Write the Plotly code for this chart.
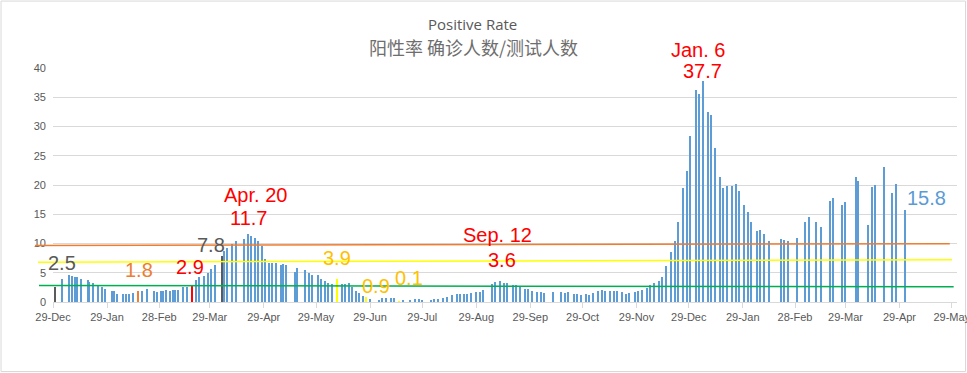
import plotly.graph_objects as go

# ---------------- data ----------------
dates = [
    "2020-12-30", "2021-01-03", "2021-01-07", "2021-01-09", "2021-01-11", "2021-01-12",
    "2021-01-14", "2021-01-18", "2021-01-19", "2021-01-21", "2021-01-24", "2021-01-26",
    "2021-01-28", "2021-02-01", "2021-02-02", "2021-02-04", "2021-02-07", "2021-02-09",
    "2021-02-11", "2021-02-13", "2021-02-16", "2021-02-18", "2021-02-21", "2021-02-25",
    "2021-02-27", "2021-03-01", "2021-03-02", "2021-03-04", "2021-03-06", "2021-03-08",
    "2021-03-09", "2021-03-11", "2021-03-14", "2021-03-16", "2021-03-19", "2021-03-21",
    "2021-03-23", "2021-03-26", "2021-03-28", "2021-03-30", "2021-04-01", "2021-04-05",
    "2021-04-06", "2021-04-08", "2021-04-11", "2021-04-13", "2021-04-18", "2021-04-20",
    "2021-04-22", "2021-04-24", "2021-04-26", "2021-04-28", "2021-04-30", "2021-05-02",
    "2021-05-04", "2021-05-06", "2021-05-09", "2021-05-10", "2021-05-12", "2021-05-17",
    "2021-05-18", "2021-05-23", "2021-05-25", "2021-05-27", "2021-05-30", "2021-06-01",
    "2021-06-03", "2021-06-05", "2021-06-07", "2021-06-10", "2021-06-13", "2021-06-15",
    "2021-06-17", "2021-06-19", "2021-06-21", "2021-06-23", "2021-06-25", "2021-06-27",
    "2021-06-29", "2021-07-04", "2021-07-06", "2021-07-08", "2021-07-11", "2021-07-13",
    "2021-07-16", "2021-07-18", "2021-07-22", "2021-07-25", "2021-07-27", "2021-07-29",
    "2021-08-03", "2021-08-05", "2021-08-07", "2021-08-10", "2021-08-12", "2021-08-15",
    "2021-08-18", "2021-08-20", "2021-08-22", "2021-08-24", "2021-08-26", "2021-08-29",
    "2021-08-31", "2021-09-02", "2021-09-07", "2021-09-09", "2021-09-12", "2021-09-14",
    "2021-09-16", "2021-09-19", "2021-09-21", "2021-09-23", "2021-09-26", "2021-09-28",
    "2021-09-30", "2021-10-03", "2021-10-05", "2021-10-07", "2021-10-12", "2021-10-17",
    "2021-10-19", "2021-10-21", "2021-10-24", "2021-10-26", "2021-10-28", "2021-10-31",
    "2021-11-02", "2021-11-04", "2021-11-07", "2021-11-09", "2021-11-11", "2021-11-14",
    "2021-11-16", "2021-11-18", "2021-11-21", "2021-11-23", "2021-11-25", "2021-11-28",
    "2021-11-30", "2021-12-02", "2021-12-05", "2021-12-07", "2021-12-09", "2021-12-12",
    "2021-12-14", "2021-12-16", "2021-12-19", "2021-12-21", "2021-12-23", "2021-12-26",
    "2021-12-28", "2021-12-30", "2022-01-02", "2022-01-04", "2022-01-06", "2022-01-09",
    "2022-01-11", "2022-01-13", "2022-01-16", "2022-01-18", "2022-01-20", "2022-01-23",
    "2022-01-25", "2022-01-27", "2022-01-30", "2022-02-01", "2022-02-03", "2022-02-06",
    "2022-02-08", "2022-02-10", "2022-02-13", "2022-02-20", "2022-02-22", "2022-02-24",
    "2022-03-01", "2022-03-06", "2022-03-08", "2022-03-12", "2022-03-15", "2022-03-20",
    "2022-03-22", "2022-03-27", "2022-03-29", "2022-04-04", "2022-04-05", "2022-04-11",
    "2022-04-13", "2022-04-15", "2022-04-20", "2022-04-25", "2022-04-27", "2022-05-02",
]

rates = [
    2.5, 4.0, 4.6, 4.5, 4.3, 4.2,
    3.9, 3.8, 3.4, 3.2, 2.9, 2.5,
    2.2, 1.8, 1.8, 1.4, 1.4, 1.4,
    1.4, 1.5, 1.8, 1.8, 2.2, 1.9,
    1.7, 1.9, 1.9, 2.0, 1.9, 2.1,
    2.0, 2.1, 2.5, 2.5, 2.9, 3.8,
    4.2, 4.5, 4.9, 5.7, 6.3, 7.8,
    8.7, 9.2, 10.0, 10.4, 10.7, 11.7,
    11.2, 10.9, 10.5, 9.6, 7.3, 6.7,
    6.6, 6.6, 6.3, 6.5, 6.3, 5.2,
    5.8, 5.5, 4.9, 4.7, 4.6, 3.9,
    3.6, 3.2, 3.1, 3.9, 3.1, 3.0,
    3.3, 2.6, 1.9, 1.6, 1.1, 0.9,
    0.5, 0.35, 0.6, 0.75, 0.7, 0.6,
    0.1, 0.2, 0.35, 0.45, 0.45, 0.35,
    0.35, 0.5, 0.5, 0.75, 0.9, 1.2,
    1.4, 1.3, 1.4, 1.4, 1.5, 1.7,
    1.7, 2.0, 3.1, 3.4, 3.6, 3.3,
    3.2, 2.85, 2.85, 2.6, 2.3, 2.2,
    1.9, 1.7, 1.7, 1.6, 1.7, 1.7,
    1.6, 1.7, 1.4, 1.4, 1.2, 1.4,
    1.25, 1.6, 1.9, 2.1, 1.9, 1.9,
    1.9, 1.9, 1.7, 1.4, 1.6, 1.7,
    1.9, 2.1, 2.45, 2.85, 3.2, 3.6,
    4.3, 6.15, 8.5, 10.4, 13.6, 19.5,
    22.4, 28.4, 36.3, 35.5, 37.7, 32.5,
    31.9, 26.4, 21.4, 19.5, 19.9, 19.9,
    20.1, 18.9, 16.6, 15.4, 13.7, 12.2,
    12.3, 11.7, 10.4, 10.8, 10.6, 10.4,
    11.0, 13.7, 14.6, 13.7, 12.9, 17.3,
    17.8, 16.5, 17.1, 21.4, 20.6, 13.2,
    19.7, 20.0, 23.1, 18.7, 20.2, 15.8,
]

tick_dates = [
    "2020-12-29", "2021-01-29", "2021-02-28", "2021-03-29", "2021-04-29", "2021-05-29",
    "2021-06-29", "2021-07-29", "2021-08-29", "2021-09-29", "2021-10-29", "2021-11-29",
    "2021-12-29", "2022-01-29", "2022-02-28", "2022-03-29", "2022-04-29", "2022-05-29",
]
y_ticks = [0, 5, 10, 15, 20, 25, 30, 35, 40]

# reference lines (value at left end, value at right end)
ref_line_names = ["orange", "yellow", "green"]
ref_line_start = [9.65, 6.8, 2.8]
ref_line_end = [9.97, 7.23, 2.62]

# callout labels: text, anchored date, anchored value
label_texts = ["2.5", "1.8", "2.9", "7.8", "Apr. 20", "11.7", "3.9", "0.9", "0.1",
               "Sep. 12", "3.6", "Jan. 6", "37.7", "15.8"]
label_dates = ["2020-12-30", "2021-02-16", "2021-03-19", "2021-04-05", "2021-04-20",
               "2021-04-20", "2021-06-10", "2021-06-27", "2021-07-16", "2021-09-12",
               "2021-09-12", "2022-01-06", "2022-01-06", "2022-05-02"]
label_values = [2.5, 1.8, 2.9, 7.8, 11.7, 11.7, 3.9, 0.9, 0.1, 3.6, 3.6, 37.7, 37.7, 15.8]

# ---------------- styles ----------------
BLUE = "#5B9BD5"
GRAY = "#595959"
RED = "#FF0000"
ORANGE = "#ED7D31"
GOLD = "#FFC000"
YELLOW = "#FFFF00"
GRID = "#D9D9D9"

highlight = {
    "2020-12-30": GRAY,
    "2021-02-16": ORANGE,
    "2021-03-19": RED,
    "2021-04-05": GRAY,
    "2021-06-10": YELLOW,
    "2021-06-27": YELLOW,
    "2021-07-16": YELLOW,
}
bar_colors = [highlight.get(d, BLUE) for d in dates]

line_colors = {"orange": ORANGE, "yellow": YELLOW, "green": "#00B050"}
line_x0 = {"orange": -0.0199, "yellow": -0.0166, "green": -0.0155}
line_x1 = {"orange": 0.992, "yellow": 0.9945, "green": 0.9963}

label_colors = [GRAY, ORANGE, RED, GRAY, RED, RED, GOLD, GOLD, GOLD, RED, RED, RED, RED, BLUE]
label_shift = [(7, 24), (1, 21), (-2, 18), (-11, 11), (7, 39), (0, 16), (0, 21),
               (9.5, 11), (9, 23), (-3, 46), (1, 21), (-5, 31.5), (0, 10.5), (22, 11.6)]

DAY_MS = 86400000

fig = go.Figure()
fig.add_trace(go.Bar(
    x=dates, y=rates,
    marker=dict(color=bar_colors, line=dict(width=0), opacity=0.99),
    width=[0.75 * DAY_MS] * len(dates),
    showlegend=False,
))

shapes = []
for name, v0, v1 in zip(ref_line_names, ref_line_start, ref_line_end):
    shapes.append(dict(type="line", xref="paper", yref="y",
                       x0=line_x0[name], x1=line_x1[name], y0=v0, y1=v1,
                       line=dict(color=line_colors[name], width=1.5), layer="above"))
# chart-area border
shapes.append(dict(type="rect", xref="paper", yref="paper",
                   x0=-0.0575, x1=1.0094, y0=-0.297, y1=1.286,
                   line=dict(color=GRID, width=1), layer="below"))

annotations = []
for t, d, v, c, (dx, dy) in zip(label_texts, label_dates, label_values, label_colors, label_shift):
    annotations.append(dict(text=t, x=d, y=v, xref="x", yref="y", showarrow=False,
                            xanchor="center", yanchor="middle", xshift=dx, yshift=dy,
                            font=dict(family="Liberation Sans, Arial", size=20, color=c)))
annotations.append(dict(text="Positive Rate", xref="paper", yref="paper", x=0.4635, y=1.188,
                        showarrow=False, xanchor="center", yanchor="middle",
                        font=dict(family="Open Sans", size=15, color=GRAY)))
annotations.append(dict(text="阳性率 确诊人数/测试人数", xref="paper", yref="paper",
                        x=0.4657, y=1.088, showarrow=False, xanchor="center", yanchor="middle",
                        font=dict(family="Noto Sans CJK SC", size=18, color="#6E6E6E")))

fig.update_layout(
    width=967, height=373,
    margin=dict(l=53, r=10, t=68, b=71, autoexpand=False),
    paper_bgcolor="white", plot_bgcolor="white",
    shapes=shapes, annotations=annotations,
    bargap=0,
    font=dict(family="Liberation Sans, Arial", size=11, color=GRAY),
    xaxis=dict(
        type="date", range=["2020-12-29", "2022-06-01"],
        tickvals=tick_dates, tickformat="%d-%b",
        showgrid=False, showline=True, linecolor=GRID, linewidth=1,
        ticks="outside", ticklen=5, tickcolor=GRID,
        tickfont=dict(size=11, color=GRAY),
        ticklabeloverflow="allow", automargin=False,
    ),
    yaxis=dict(
        range=[0, 40], tickvals=y_ticks,
        showgrid=True, gridcolor=GRID, gridwidth=1,
        zeroline=False, showline=False,
        ticks="", ticklabelstandoff=6, automargin=False,
        tickfont=dict(size=11, color=GRAY),
    ),
)

fig.write_html("out.html", config={"displayModeBar": False},
               post_script="document.body.style.margin='0px';document.body.style.overflow='hidden';")
